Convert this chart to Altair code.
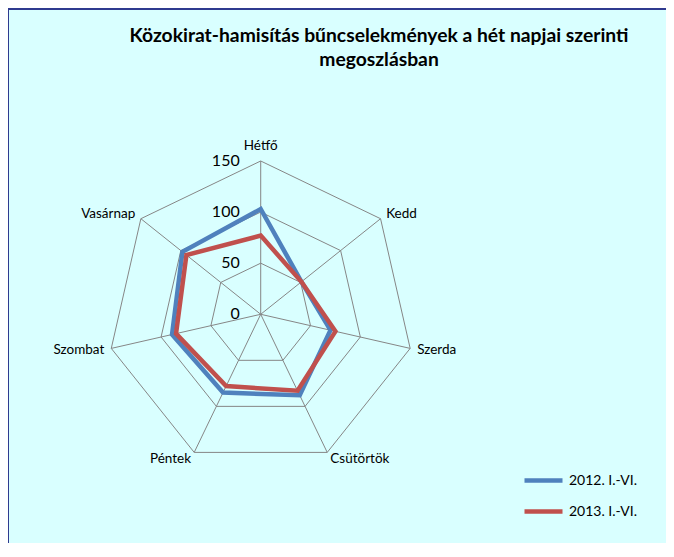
import altair as alt
import pandas as pd

days = ["Hétfő", "Kedd", "Szerda", "Csütörtök", "Péntek", "Szombat", "Vasárnap"]
series_names = ["2012. I.-VI.", "2013. I.-VI."]
v2012 = [103, 51, 70, 88, 85, 89, 98]
v2013 = [77, 51, 75, 83, 78, 85, 93]
levels = [0, 50, 100, 150]
level_labels = ["0", "50", "100", "150"]
title_lines = ["Közokirat-hamisítás bűncselekmények a hét napjai szerinti", "megoszlásban"]

RMAX = 150
N = len(days)

rows = []
for s, vals in zip(series_names, [v2012, v2013]):
    for i, (d, v) in enumerate(zip(days, vals)):
        rows.append({"series": s, "day": d, "idx": i, "value": v})
df = pd.DataFrame(rows)

grid = pd.DataFrame([{"level": lv, "idx": i} for lv in levels[1:] for i in range(N)])
spokes = pd.DataFrame({"day": days, "idx": list(range(N))})
ticks = pd.DataFrame({"level": levels, "label": level_labels})

xs = alt.Scale(domain=[-247.3, 396.6], nice=False, zero=False)
ys = alt.Scale(domain=[-223.8, 299.7], nice=False, zero=False)
FONT = "Lato"
ang = f"datum.idx*2*PI/{N}"

grid_layer = alt.Chart(grid).transform_calculate(
    a=ang
).transform_calculate(
    gx="datum.level*sin(datum.a)", gy="datum.level*cos(datum.a)"
).mark_line(interpolate="linear-closed", color="#868686", strokeWidth=1).encode(
    x=alt.X("gx:Q", scale=xs, axis=None),
    y=alt.Y("gy:Q", scale=ys, axis=None),
    detail="level:N",
    order="idx:Q",
)

spoke_layer = alt.Chart(spokes).transform_calculate(
    a=ang
).transform_calculate(
    x0="0", y0="0",
    sx=f"{RMAX}*sin(datum.a)", sy=f"{RMAX}*cos(datum.a)"
).mark_rule(color="#868686", strokeWidth=1).encode(
    x=alt.X("x0:Q", scale=xs, axis=None),
    y=alt.Y("y0:Q", scale=ys, axis=None),
    x2="sx:Q",
    y2="sy:Q",
)

line_layer = alt.Chart(df).transform_calculate(
    a=ang
).transform_calculate(
    px="datum.value*sin(datum.a)", py="datum.value*cos(datum.a)"
).mark_line(interpolate="linear-closed", strokeWidth=4.5, strokeJoin="miter").encode(
    x=alt.X("px:Q", scale=xs, axis=None),
    y=alt.Y("py:Q", scale=ys, axis=None),
    color=alt.Color(
        "series:N",
        scale=alt.Scale(domain=series_names, range=["#4F81BD", "#C0504D"]),
        legend=alt.Legend(
            title=None, orient="none", legendX=514, legendY=451,
            symbolType="stroke", symbolSize=1444, symbolStrokeWidth=4.5,
            labelFont=FONT, labelFontSize=14, labelColor="#000000",
            labelOffset=4, rowPadding=-3, padding=0,
        ),
    ),
    order="idx:Q",
)

tick_layer = alt.Chart(ticks).transform_calculate(x0="0").mark_text(
    align="right", baseline="middle", dx=-21, font=FONT, fontSize=16, color="#000000"
).encode(
    x=alt.X("x0:Q", scale=xs, axis=None),
    y=alt.Y("level:Q", scale=ys, axis=None),
    text="label:N",
)


def day_labels(filt, align, rl):
    return alt.Chart(spokes).transform_calculate(
        a=ang
    ).transform_calculate(
        lx=f"{rl}*sin(datum.a)", ly=f"{rl}*cos(datum.a)", s="sin(datum.a)"
    ).transform_filter(filt).mark_text(
        align=align, baseline="middle", font=FONT, fontSize=13.5, color="#000000"
    ).encode(
        x=alt.X("lx:Q", scale=xs, axis=None),
        y=alt.Y("ly:Q", scale=ys, axis=None),
        text="day:N",
    )


lab_c = day_labels("abs(datum.s) < 0.1", "center", 165)
lab_l = day_labels("datum.s >= 0.1", "left", 157)
lab_r = day_labels("datum.s <= -0.1", "right", 157)

frame_df = pd.DataFrame({"k": [0]})
frame_top = alt.Chart(frame_df).mark_rule(color="#2F3A8F", strokeWidth=2).encode(
    x=alt.value(0), x2=alt.value(666), y=alt.value(1)
)
frame_left = alt.Chart(frame_df).mark_rule(color="#2F3A8F", strokeWidth=2).encode(
    x=alt.value(0), y=alt.value(0), y2=alt.value(540)
)

chart = alt.layer(
    grid_layer, spoke_layer, line_layer, tick_layer, lab_c, lab_l, lab_r, frame_top, frame_left
).properties(
    width=658,
    height=535,
    autosize=alt.AutoSizeParams(type="none"),
    padding=0,
    background="#D9FFFF",
    title=alt.TitleParams(
        title_lines, anchor="middle", dx=42, offset=-63, font=FONT, fontSize=19.3,
        fontWeight="bold", color="#000000", lineHeight=24,
    ),
).configure_view(stroke=None)

chart.save("out.html", embed_options={"renderer": "svg", "actions": False})
